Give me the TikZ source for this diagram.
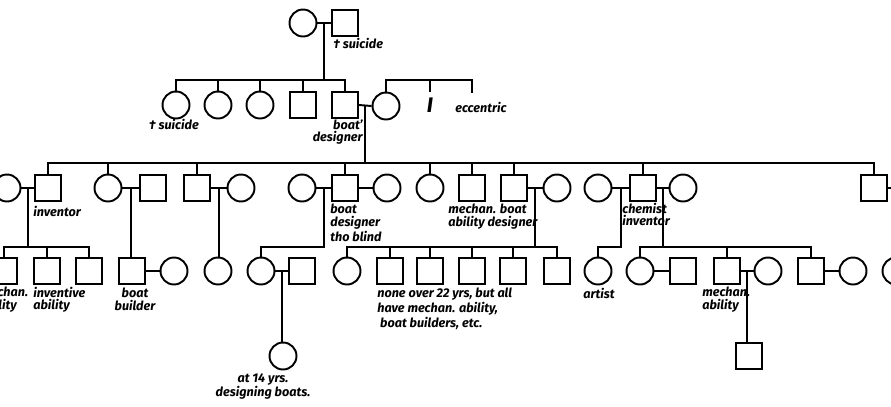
\documentclass[tikz,border=0pt]{standalone}
\usepackage{fontspec}
\setmainfont{Fira Sans}
\usetikzlibrary{calc}
\tikzset{
  female/.style={circle, draw, line width=1.1pt, minimum size=0.54cm, inner sep=0pt},
  male/.style={rectangle, draw, line width=1.1pt, minimum size=0.52cm, inner sep=0pt},
  kin/.style={line width=1.1pt},
  note/.style={font=\fontsize{7.2}{7}\selectfont\bfseries\itshape, inner sep=0pt, align=left},
}
\begin{document}
\begin{tikzpicture}[x=0.02cm, y=-0.02cm]
  \useasboundingbox (0,0) rectangle (891,406);
  \clip (0,0) rectangle (891,406);
  \coordinate (sib2) at (0,80);
  \coordinate (sib3) at (0,163);
  \coordinate (sib4) at (0,247);

  % generation I
  \node[female] (f1) at (303,23) {};
  \node[male] (m1) at (345,23) {};
  \node[note, anchor=north west] (t1) at (333,38) {† suicide};

  % generation II
  \node[female] (f21) at (176,105) {};
  \node[female] (f22) at (218,105) {};
  \node[female] (f23) at (260,105) {};
  \node[male] (m24) at (303,105) {};
  \node[male] (m25) at (345,105) {};
  \node[female] (f26) at (386,106) {};
  \coordinate (d2i) at (430,92);
  \coordinate (d2e) at (472,93);
  \node[note, font=\fontsize{12}{12}\selectfont\bfseries\itshape] (lbI) at (430,105) {I};
  \node[note, anchor=west] (lbE) at (455,107) {eccentric};
  \node[note, anchor=north] (t21) at (174,119) {† suicide};
  \node[note, anchor=north east, align=right] (t25) at (363,119) {boat'\\designer};

  % generation III
  \node[female] (f30) at (7,188) {};
  \node[male] (m31) at (48,188) {};
  \node[female] (f32) at (108,188) {};
  \node[male] (m32) at (153,188) {};
  \node[male] (m33) at (197,188) {};
  \node[female] (f33) at (241,188) {};
  \node[female] (f34) at (302,188) {};
  \node[male] (m34) at (345,188) {};
  \node[female] (f35) at (387,188) {};
  \node[female] (f36) at (430,188) {};
  \node[male] (m36) at (472,188) {};
  \node[male] (m37) at (514,188) {};
  \node[female] (f37) at (557,188) {};
  \node[female] (f38) at (598,188) {};
  \node[male] (m38) at (643,188) {};
  \node[female] (f39) at (683,188) {};
  \node[male] (m39) at (874,188) {};
  \coordinate (m39x) at (898,188);
  \node[note, anchor=north west] (t31) at (33,206) {inventor};
  \node[note, anchor=north west] (t34) at (330,204) {boat\\designer\\tho blind};
  \node[note, anchor=north west] (t36) at (448,204) {mechan. boat\\ability designer};
  \node[note, anchor=north west] (t38) at (622,203) {chemist\\inventor};

  % generation IV
  \node[male] (m41) at (4,271) {};
  \node[male] (m42) at (47,271) {};
  \node[male] (m43) at (89,271) {};
  \node[male] (m44) at (132,271) {};
  \node[female] (f45) at (174,271) {};
  \node[female] (f46) at (218,271) {};
  \node[female] (f47) at (261,271) {};
  \node[male] (m48) at (302,271) {};
  \node[female] (f49) at (347,271) {};
  \node[male] (m410) at (390,271) {};
  \node[male] (m411) at (430,271) {};
  \node[male] (m412) at (472,271) {};
  \node[male] (m413) at (513,271) {};
  \node[male] (m414) at (557,271) {};
  \node[female] (f415) at (598,271) {};
  \node[female] (f416) at (640,271) {};
  \node[male] (m416) at (683,271) {};
  \node[male] (m417) at (727,271) {};
  \node[female] (f417) at (768,271) {};
  \node[male] (m418) at (811,271) {};
  \node[female] (f418) at (853,271) {};
  \node[female] (f419) at (896,271) {};
  \node[note, anchor=north west] (t41) at (-20,287) {mechan.\\ability};
  \node[note, anchor=north west] (t42) at (33,287) {inventive\\ability};
  \node[note, anchor=north, align=center] (t44) at (135,288) {boat\\builder};
  \node[note, anchor=north west] (t49) at (377,288) {none over 22 yrs, but all\\have mechan. ability,\\\ boat builders, etc.};
  \node[note, anchor=north] (t415) at (599,288) {artist};
  \node[note, anchor=north west] (t417) at (702,287) {mechan.\\ability};

  % generation V
  \node[female] (f51) at (283,356) {};
  \node[male] (m52) at (749,356) {};
  \node[note, anchor=north, align=center] (t51) at (263,373) {at 14 yrs.\\designing boats.};

  % marriages
  \foreach \a/\b/\u in {f1/m1/u1, m25/f26/u2, f30/m31/u31, f32/m32/u32, m33/f33/u33,
      f34/m34/u34, m37/f37/u37, f38/m38/u38, m38/f39/u39, f47/m48/u47, m417/f417/u417} {
    \coordinate (\u) at ($(\a.east)!.5!(\b.west)$);
    \draw[kin] (\a.east) -- (\b.west);
  }
  \foreach \a/\b in {m34/f35, m44/f45, f416/m416, m418/f418} {
    \draw[kin] (\a.east) -- (\b.west);
  }
  \draw[kin] (m39.east) -- (m39x);

  % descent
  \draw[kin] (u1) -- (u1 |- sib2);
  \draw[kin] (f21.north) -- (f21.north |- sib2) -- (m25.north |- sib2) -- (m25.north);
  \foreach \c in {f22, f23, m24} {
    \draw[kin] (\c.north) -- (\c.north |- sib2);
  }
  \draw[kin] (f26.north) -- (f26.north |- sib2) -- (d2e |- sib2) -- (d2e);
  \draw[kin] (d2i |- sib2) -- (d2i);

  \draw[kin] (u2) -- (u2 |- sib3);
  \draw[kin] (m31.north) -- (m31.north |- sib3) -- (m39.north |- sib3) -- (m39.north);
  \foreach \c in {f32, m33, m34, f36, m36, m37, m38} {
    \draw[kin] (\c.north) -- (\c.north |- sib3);
  }

  \draw[kin] (u31) -- (u31 |- sib4);
  \draw[kin] (m41.north) -- (m41.north |- sib4) -- (m43.north |- sib4) -- (m43.north);
  \draw[kin] (m42.north) -- (m42.north |- sib4);
  \draw[kin] (u32) -- (u32 |- m44.north);
  \draw[kin] (u33) -- (u33 |- f46.north);
  \draw[kin] (u34) -- (u34 |- sib4) -| (f47.north);
  \draw[kin] (u37) -- (u37 |- sib4);
  \draw[kin] (f49.north) -- (f49.north |- sib4) -- (m414.north |- sib4) -- (m414.north);
  \foreach \c in {m410, m411, m412, m413} {
    \draw[kin] (\c.north) -- (\c.north |- sib4);
  }
  \draw[kin] (u38) -- (u38 |- sib4) -| (f415.north);
  \draw[kin] (u39) -- (u39 |- sib4);
  \draw[kin] (f416.north) -- (f416.north |- sib4) -- (m418.north |- sib4) -- (m418.north);
  \draw[kin] (m417.north) -- (m417.north |- sib4);

  \draw[kin] (u47) -- (u47 |- f51.north);
  \draw[kin] (u417) -- (u417 |- m52.north);
\end{tikzpicture}
\end{document}
